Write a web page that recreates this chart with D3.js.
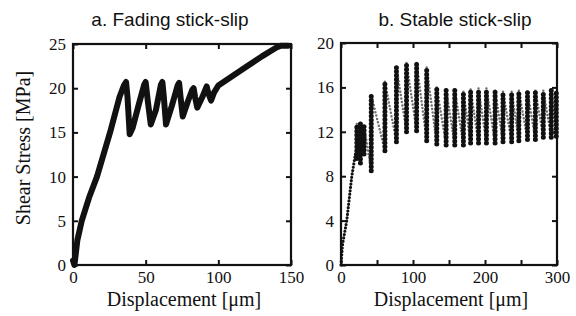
<!DOCTYPE html>
<html>
<head>
<meta charset="utf-8">
<script src="https://cdn.jsdelivr.net/npm/d3@7"></script>
<style>
  body { margin: 0; background: #fff; }
  svg { display: block; }
  .tick text { font-family: "Liberation Serif", "Times New Roman", serif; font-size: 17px; fill: #111; }
  .tick line { stroke: #111; stroke-width: 2; }
  .ttl { font-family: "Liberation Sans", Arial, sans-serif; font-size: 19px; fill: #111; }
  .lab { font-family: "Liberation Serif", "Times New Roman", serif; font-size: 20px; fill: #111; }
</style>
</head>
<body>
<svg id="chart" width="576" height="316"></svg>
<script>
// panel a: fading stick-slip (displacement um, shear stress MPa)
var fadeX = [0, 1, 3, 6, 11, 16.5, 25.5, 32, 35, 36.5, 37.5, 39, 41, 45, 49, 50, 51.5, 53.5, 57, 60.5, 61.5, 62.5, 64, 68, 72, 73, 74, 75.5, 79, 82, 83, 84, 85.5, 89, 91.5, 92, 93, 95, 97, 100, 110, 120, 130, 140, 143, 148];
var fadeY = [0.5, 0, 2.8, 5, 7.6, 10, 15, 19, 20.3, 20.7, 19, 14.8, 15.5, 18, 20.4, 20.7, 18.5, 15.9, 17.5, 20.4, 20.7, 19, 15.9, 18, 20.3, 20.6, 19, 16.8, 18.5, 19.8, 20, 19, 17.8, 19, 20, 20.2, 19.5, 18.6, 19.5, 20.3, 21.4, 22.5, 23.6, 24.6, 24.8, 24.8];

// panel b: stable stick-slip, initial loading ramp then stick columns (low -> high)
var rampX = [0, 2, 8, 15, 20];
var rampY = [0, 1.8, 4, 8, 10];
var colX    = [22, 27, 32, 42, 61, 77, 91, 105, 119, 133, 146, 158, 170, 180, 191, 202, 214, 225, 237, 247, 259, 270, 281, 292, 299];
var colLow  = [9.6, 9.2, 10, 8.5, 10.3, 11.1, 12.0, 12.1, 11.2, 10.9, 10.8, 10.8, 10.8, 11.0, 11.0, 11.0, 11.0, 11.1, 11.1, 11.2, 11.3, 11.3, 11.5, 11.5, 11.6];
var colHigh = [12.7, 12.8, 12.5, 15.3, 16.5, 17.8, 18.2, 18.2, 17.8, 16.0, 15.8, 15.8, 15.6, 15.8, 15.9, 15.9, 15.7, 15.6, 15.6, 15.7, 15.6, 15.7, 15.7, 15.8, 15.8];

var xTicksA = [0, 50, 100, 150], yTicksA = [0, 5, 10, 15, 20, 25];
var xTicksB = [0, 50, 100, 150, 200, 250, 300], yTicksB = [0, 4, 8, 12, 16, 20];

var svg = d3.select('#chart');

function frame(g, x, y, xt, yt, xlab) {
  g.append('g').attr('transform', 'translate(0,' + y.range()[0] + ')')
    .call(d3.axisBottom(x).tickValues(xt).tickSizeInner(-5).tickSizeOuter(0).tickPadding(6)
      .tickFormat(function(d){ return xlab.indexOf(d) >= 0 ? d : ''; }))
    .call(function(a){ a.select('.domain').remove(); });
  g.append('g').attr('transform', 'translate(0,' + y.range()[1] + ')')
    .call(d3.axisTop(x).tickValues(xt).tickSizeInner(-5).tickSizeOuter(0).tickFormat(''))
    .call(function(a){ a.select('.domain').remove(); });
  g.append('g').attr('transform', 'translate(' + x.range()[0] + ',0)')
    .call(d3.axisLeft(y).tickValues(yt).tickSizeInner(-5).tickSizeOuter(0).tickPadding(7))
    .call(function(a){ a.select('.domain').remove(); });
  g.append('g').attr('transform', 'translate(' + x.range()[1] + ',0)')
    .call(d3.axisRight(y).tickValues(yt).tickSizeInner(-5).tickSizeOuter(0).tickFormat(''))
    .call(function(a){ a.select('.domain').remove(); });
  g.append('rect')
    .attr('x', x.range()[0]).attr('y', y.range()[1])
    .attr('width', x.range()[1] - x.range()[0]).attr('height', y.range()[0] - y.range()[1])
    .attr('fill', 'none').attr('stroke', '#111').attr('stroke-width', 2.2);
  g.append('text').attr('class', 'lab')
    .attr('x', (x.range()[0] + x.range()[1]) / 2 + 2).attr('y', 306)
    .attr('text-anchor', 'middle').text('Displacement [\u03bcm]');
}

// panel a
var xa = d3.scaleLinear().domain([0, 150]).range([73, 291]);
var ya = d3.scaleLinear().domain([0, 25]).range([265, 44]);
var ga = svg.append('g');
var lineA = d3.line().x(function(d){ return xa(d[0]); }).y(function(d){ return ya(d[1]); });
ga.append('path')
  .datum(d3.zip(fadeX, fadeY))
  .attr('d', lineA)
  .attr('fill', 'none').attr('stroke', '#111').attr('stroke-width', 6)
  .attr('stroke-linejoin', 'round').attr('stroke-linecap', 'round');
frame(ga, xa, ya, xTicksA, yTicksA, xTicksA);
ga.append('text').attr('class', 'ttl').attr('x', 170).attr('y', 26).attr('text-anchor', 'middle').text('a. Fading stick-slip');
ga.append('text').attr('class', 'lab')
  .attr('transform', 'translate(30,148) rotate(-90)')
  .attr('text-anchor', 'middle').text('Shear Stress [MPa]');

// panel b
var xb = d3.scaleLinear().domain([0, 300]).range([341, 557]);
var yb = d3.scaleLinear().domain([0, 20]).range([265, 43]);
var gb = svg.append('g');
var lineB = d3.line().x(function(d){ return xb(d[0]); }).y(function(d){ return yb(d[1]); });

// slip jumps: faint connectors from each peak to the next trough
var slips = [];
colX.forEach(function(cx, i){
  if (i < colX.length - 1) slips.push([[cx, colHigh[i]], [colX[i + 1], colLow[i + 1]]]);
});
gb.selectAll('path.slip').data(slips).enter().append('path')
  .attr('class', 'slip').attr('d', lineB)
  .attr('fill', 'none').attr('stroke', '#333').attr('stroke-width', 2.5)
  .attr('stroke-linecap', 'round').attr('stroke-dasharray', '0,3.5').attr('opacity', 0.7);

// loading ramp
gb.append('path').datum(d3.zip(rampX, rampY).concat([[colX[0], colLow[0]]]))
  .attr('d', lineB)
  .attr('fill', 'none').attr('stroke', '#111').attr('stroke-width', 3.2)
  .attr('stroke-linecap', 'round').attr('stroke-dasharray', '0,3.4');

// stick columns
gb.selectAll('path.col').data(colX.map(function(cx, i){ return [[cx, colLow[i]], [cx, colHigh[i]]]; }))
  .enter().append('path')
  .attr('class', 'col').attr('d', lineB)
  .attr('fill', 'none').attr('stroke', '#111').attr('stroke-width', 5)
  .attr('stroke-linecap', 'round').attr('stroke-dasharray', '0,3.9');

frame(gb, xb, yb, xTicksB, yTicksB, [0, 100, 200, 300]);
gb.append('text').attr('class', 'ttl').attr('x', 455).attr('y', 26).attr('text-anchor', 'middle').text('b. Stable stick-slip');
</script>
</body>
</html>
